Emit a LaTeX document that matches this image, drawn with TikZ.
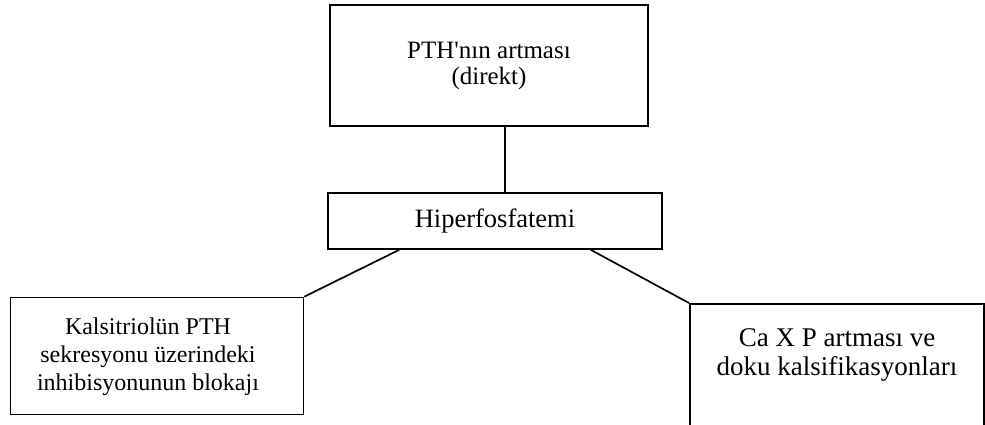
\documentclass[tikz,border=0pt]{standalone}
\usepackage{fontspec}
\setmainfont{Liberation Serif}[Ligatures=TeXOff]
\begin{document}
\begin{tikzpicture}[x=1pt,y=-1pt,
  box/.style={draw,line width=1.7pt,inner sep=0pt,align=center},
  txt/.style={inner sep=0pt,align=center},
  link/.style={line width=1.7pt}]
\useasboundingbox (0,0) rectangle (985,424);
\clip (0,0) rectangle (985,424);
\node[box,minimum width=318pt,minimum height=121pt,font=\fontsize{25}{26}\selectfont] (top) at (489,65.5)
  {PTH'nın artması\\(direkt)};
\node[box,minimum width=334pt,minimum height=56pt,font=\fontsize{26.5}{28}\selectfont] (hip) at (495,221)
  {Hiperfosfatemi};
\node[box,minimum width=293pt,minimum height=117pt] (left) at (157,356) {};
\node[txt,font=\fontsize{24}{28}\selectfont] (ltext) at (148,357) {Kalsitriolün PTH\\sekresyonu üzerindeki\\inhibisyonunun blokajı};
\node[draw,line width=1.7pt,inner sep=0pt,minimum width=294pt,minimum height=160pt,anchor=north west] (right) at (689,303) {};
\node[txt,font=\fontsize{27}{29}\selectfont] (rtext) at (837,355) {Ca X P artması ve\\doku kalsifikasyonları};
\draw[link] ([xshift=16pt]top.south) -- ([xshift=10pt]hip.north);
\draw[link] ([xshift=72pt]hip.south west) -- (left.north east);
\draw[link] ([xshift=-72pt]hip.south east) -- (right.north west);
\end{tikzpicture}
\end{document}
